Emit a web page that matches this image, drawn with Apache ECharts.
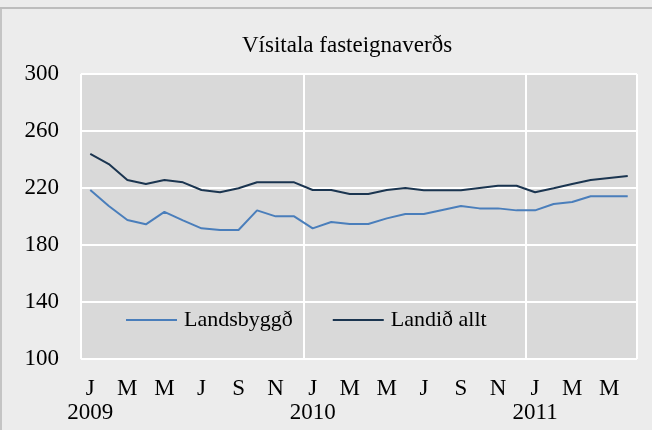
<!DOCTYPE html>
<html>
<head>
<meta charset="utf-8">
<script src="https://cdn.jsdelivr.net/npm/echarts@6/dist/echarts.min.js"></script>
<style>
  html, body { margin: 0; padding: 0; background: #ececec; }
  #chart { width: 652px; height: 430px; }
</style>
</head>
<body>
<div id="chart"></div>
<script>
// months Jan 2009 - Jun 2011
var categories = [
  '2009-01','2009-02','2009-03','2009-04','2009-05','2009-06','2009-07','2009-08','2009-09','2009-10','2009-11','2009-12',
  '2010-01','2010-02','2010-03','2010-04','2010-05','2010-06','2010-07','2010-08','2010-09','2010-10','2010-11','2010-12',
  '2011-01','2011-02','2011-03','2011-04','2011-05','2011-06'
];
var monthLetters = ['J','F','M','A','M','J','J','A','S','O','N','D'];

var landsbyggd = [218.6, 207.4, 197.5, 194.5, 203.2, 197.3, 191.7, 190.5, 190.5, 204.3, 200.1, 200.1,
                  191.7, 196.1, 194.7, 194.7, 198.7, 201.8, 201.8, 204.6, 207.4, 205.7, 205.7, 204.3,
                  204.3, 208.8, 210.2, 214.2, 214.2, 214.2];
var landidAllt = [243.9, 236.8, 225.6, 222.8, 225.6, 224.0, 218.6, 217.0, 219.8, 224.0, 224.0, 224.0,
                  218.6, 218.6, 215.8, 215.8, 218.6, 220.0, 218.4, 218.4, 218.4, 220.0, 221.6, 221.6,
                  217.0, 219.8, 222.8, 225.6, 227.0, 228.4];

var font = '"Liberation Serif", "Times New Roman", serif';

var chart = echarts.init(document.getElementById('chart'));
chart.setOption({
  backgroundColor: '#ececec',
  animation: false,
  title: {
    text: 'Vísitala fasteignaverðs',
    left: 237,
    top: 29,
    textStyle: { fontFamily: font, fontSize: 23, fontWeight: 'normal', color: '#000' }
  },
  legend: {
    left: 121,
    top: 304,
    icon: 'rect',
    itemWidth: 51,
    itemHeight: 2,
    itemGap: 40,
    textStyle: { fontFamily: font, fontSize: 22, color: '#000', padding: [0, 0, 0, 2] },
    data: ['Landsbyggð', 'Landið allt']
  },
  grid: { left: 81, right: 15, top: 74, bottom: 71, backgroundColor: '#d9d9d9', show: true, borderWidth: 0 },
  xAxis: {
    type: 'category',
    data: categories,
    boundaryGap: true,
    axisLine: { show: false },
    axisTick: { show: false },
    axisLabel: {
      interval: 1,
      margin: 18,
      lineHeight: 24,
      fontFamily: font,
      fontSize: 23,
      color: '#000',
      formatter: function (v) {
        var m = parseInt(v.slice(5), 10) - 1;
        return m === 0 ? monthLetters[m] + '\n' + v.slice(0, 4) : monthLetters[m];
      }
    },
    splitLine: { show: true, interval: 11, lineStyle: { color: '#ffffff', width: 2 } }
  },
  yAxis: {
    type: 'value',
    min: 100,
    max: 300,
    interval: 40,
    axisLine: { show: false },
    axisTick: { show: false },
    axisLabel: { margin: 22, fontFamily: font, fontSize: 23, color: '#000' },
    splitLine: { lineStyle: { color: '#ffffff', width: 2 } }
  },
  series: [
    {
      name: 'Landsbyggð',
      type: 'line',
      data: landsbyggd,
      symbol: 'none',
      lineStyle: { color: '#4a7ebb', width: 2 },
      itemStyle: { color: '#4a7ebb' }
    },
    {
      name: 'Landið allt',
      type: 'line',
      data: landidAllt,
      symbol: 'none',
      lineStyle: { color: '#1b3550', width: 2 },
      itemStyle: { color: '#1b3550' }
    }
  ],
  graphic: [
    { type: 'rect', shape: { x: 0, y: 7, width: 652, height: 2 }, style: { fill: '#bdbdbd' }, silent: true },
    { type: 'rect', shape: { x: 0, y: 9, width: 2, height: 421 }, style: { fill: '#c4c4c4' }, silent: true }
  ]
});
</script>
</body>
</html>
